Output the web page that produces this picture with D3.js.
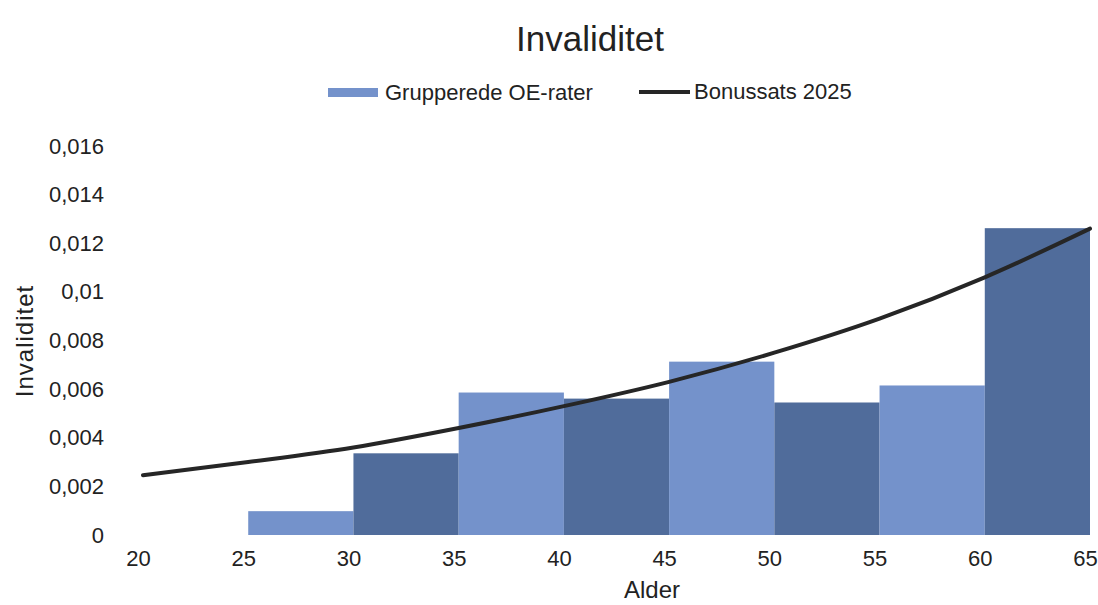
<!DOCTYPE html>
<html><head><meta charset="utf-8">
<script src="https://cdn.jsdelivr.net/npm/d3@7"></script>
<style>body{margin:0;background:#fff;} svg{display:block;font-family:"Liberation Sans",Arial,sans-serif;}</style>
</head><body>
<svg id="c" width="1098" height="605"></svg>
<script>
const groupStarts = [25, 30, 35, 40, 45, 50, 55, 60];
const groupEnds   = [30, 35, 40, 45, 50, 55, 60, 65];
const oeRates     = [0.00098, 0.00336, 0.00586, 0.00561, 0.00713, 0.00545, 0.00615, 0.01262];
const lineAges    = [20, 25, 30, 35, 40, 45, 50, 55, 60, 65];
const bonusRates  = [0.00246, 0.0030, 0.0036, 0.0044, 0.0053, 0.0063, 0.0075, 0.0089, 0.0106, 0.0126];
const xTicks = [20, 25, 30, 35, 40, 45, 50, 55, 60, 65];
const yTicks = [0, 0.002, 0.004, 0.006, 0.008, 0.01, 0.012, 0.014, 0.016];
const yTickLabels = ["0", "0,002", "0,004", "0,006", "0,008", "0,01", "0,012", "0,014", "0,016"];

const svg = d3.select("#c");
const x = d3.scaleLinear().domain([20, 65]).range([143, 1090]);
const y = d3.scaleLinear().domain([0, 0.016]).range([535, 146]);
const light = "#7492cb", dark = "#506c9b";
const txt = "#222";

const bars = groupStarts.map((s, i) => ({s, e: groupEnds[i], v: oeRates[i], i}));
svg.append("g").selectAll("rect").data(bars).join("rect")
  .attr("x", d => x(d.s)).attr("width", d => x(d.e) - x(d.s))
  .attr("y", d => y(d.v)).attr("height", d => y(0) - y(d.v))
  .attr("fill", d => d.i % 2 === 0 ? light : dark);

const line = d3.line().x((d, i) => x(lineAges[i])).y(d => y(d)).curve(d3.curveMonotoneX);
svg.append("path").datum(bonusRates).attr("d", line)
  .attr("fill", "none").attr("stroke", "#262626").attr("stroke-width", 4).attr("stroke-linecap", "round");

// axes
const yAxis = svg.append("g").attr("transform", "translate(104,0)")
  .call(d3.axisLeft(y).tickValues(yTicks).tickSize(0).tickPadding(0).tickFormat((d, i) => yTickLabels[i]));
yAxis.select(".domain").remove();
yAxis.selectAll("text").attr("font-size", 22).attr("fill", txt).attr("font-family", "Liberation Sans, Arial, sans-serif");

const xAxis = svg.append("g").attr("transform", "translate(-5,548)")
  .call(d3.axisBottom(x).tickValues(xTicks).tickSize(0).tickPadding(2).tickFormat(d3.format("d")));
xAxis.select(".domain").remove();
xAxis.selectAll("text").attr("font-size", 22).attr("fill", txt).attr("font-family", "Liberation Sans, Arial, sans-serif");

svg.append("text").attr("x", 590).attr("y", 51).attr("text-anchor", "middle")
  .attr("font-size", 35).attr("fill", txt).text("Invaliditet");
svg.append("text").attr("x", 652).attr("y", 598).attr("text-anchor", "middle")
  .attr("font-size", 24).attr("fill", txt).text("Alder");
svg.append("text").attr("transform", "translate(33,341) rotate(-90)").attr("text-anchor", "middle")
  .attr("font-size", 24).attr("letter-spacing", 1).attr("fill", txt).text("Invaliditet");

// legend
const lg = svg.append("g");
lg.append("rect").attr("x", 328).attr("y", 88).attr("width", 50).attr("height", 9).attr("fill", light);
lg.append("text").attr("x", 385).attr("y", 100).attr("font-size", 22).attr("fill", txt).text("Grupperede OE-rater");
lg.append("line").attr("x1", 639).attr("x2", 690).attr("y1", 92).attr("y2", 92).attr("stroke", "#262626").attr("stroke-width", 4);
lg.append("text").attr("x", 694).attr("y", 99).attr("font-size", 22).attr("fill", txt).text("Bonussats 2025");
</script>
</body></html>
